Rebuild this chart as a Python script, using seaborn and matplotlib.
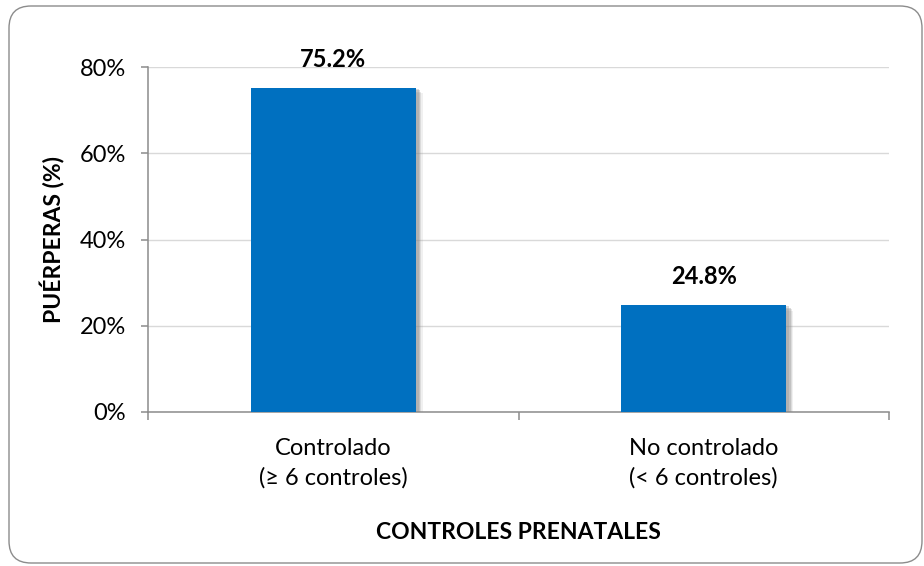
import matplotlib
matplotlib.use("Agg")
import matplotlib.pyplot as plt
import matplotlib.patheffects as pe
from matplotlib.patches import FancyBboxPatch
from matplotlib.ticker import FixedLocator, FuncFormatter
import seaborn as sns
import pandas as pd

# ---- data ----
categories = ["Controlado\n(≥ 6 controles)", "No controlado\n(< 6 controles)"]
values = [75.2, 24.8]
value_labels = ["75.2%", "24.8%"]
y_ticks = [0, 20, 40, 60, 80]
x_title = "CONTROLES PRENATALES"
y_title = "PUÉRPERAS (%)"

df = pd.DataFrame({"cat": categories, "val": values})

sns.set_theme(style="white")
plt.rcParams["font.family"] = ["Lato", "DejaVu Sans"]

fig = plt.figure(figsize=(9.24, 5.66), dpi=100)
ax = fig.add_axes([148 / 924, 1 - 412 / 566, (889 - 148) / 924, (412 - 67) / 566])

sns.barplot(data=df, x="cat", y="val", color="#0070C0", saturation=1,
            width=0.446, ax=ax, zorder=3)

shadow = [pe.SimplePatchShadow(offset=(5, -4), shadow_rgbFace="#8a8a8a", alpha=0.12),
          pe.SimplePatchShadow(offset=(4, -3), shadow_rgbFace="#8a8a8a", alpha=0.2),
          pe.SimplePatchShadow(offset=(3, -2), shadow_rgbFace="#8a8a8a", alpha=0.3),
          pe.SimplePatchShadow(offset=(2, -1), shadow_rgbFace="#8a8a8a", alpha=0.3),
          pe.Normal()]
for p in ax.patches:
    p.set_path_effects(shadow)
    p.set_edgecolor("none")

ax.bar_label(ax.containers[0], labels=value_labels, padding=12,
             fontsize=17, fontweight="bold", color="black")

ax.set_ylim(0, 80)
ax.set_xlim(-0.5, 1.5)
ax.yaxis.set_major_locator(FixedLocator(y_ticks))
ax.yaxis.set_major_formatter(FuncFormatter(lambda v, _: f"{v:.0f}%"))
ax.grid(axis="y", color="#D9D9D9", linewidth=1.0, zorder=0)
ax.set_axisbelow(True)

for s in ["top", "right"]:
    ax.spines[s].set_visible(False)
for s in ["left", "bottom"]:
    ax.spines[s].set_color("#8C8C8C")
    ax.spines[s].set_linewidth(1.1)

ax.tick_params(axis="y", which="major", direction="out", length=5, width=1.1,
               color="#8C8C8C", left=True, pad=11, labelsize=17, labelcolor="black")
ax.tick_params(axis="x", which="major", length=0, pad=19, labelsize=17,
               labelcolor="black")
ax.set_xticks([-0.5, 0.5, 1.5], minor=True)
ax.tick_params(axis="x", which="minor", direction="out", length=6, width=1.1,
               color="#8C8C8C", bottom=True)
for lbl in ax.get_xticklabels():
    lbl.set_linespacing(1.45)

ax.set_xlabel(x_title, fontsize=16.5, fontweight="bold", color="black", labelpad=24)
ax.set_ylabel(y_title, fontsize=16.5, fontweight="bold", color="black", labelpad=10)

border = FancyBboxPatch((0.09, 0.03), 9.13, 5.57,
                        boxstyle="round,pad=0,rounding_size=0.22",
                        transform=fig.dpi_scale_trans, facecolor="none",
                        edgecolor="#8C8C8C", linewidth=1.0)
fig.patches.append(border)

fig.savefig("out.png", dpi=100)
